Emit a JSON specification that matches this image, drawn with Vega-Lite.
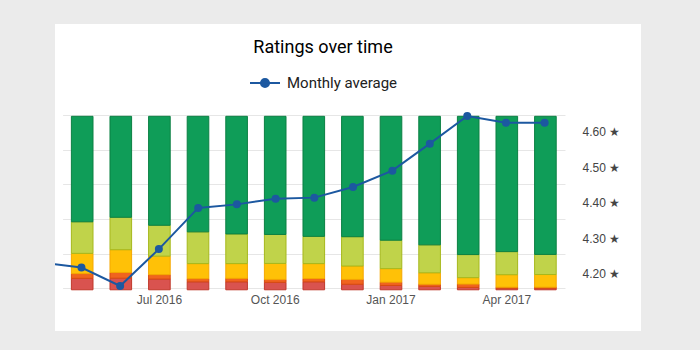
{
  "$schema": "https://vega.github.io/schema/vega-lite/v6.json",
  "width": 586,
  "height": 307,
  "autosize": {"type": "none"},
  "padding": {"left": 55, "top": 24, "right": 59, "bottom": 19},
  "background": "#ebebeb",
  "view": {"fill": "white", "stroke": null},
  "title": {
    "text": "Ratings over time",
    "font": "Roboto",
    "fontSize": 18,
    "fontWeight": "normal",
    "color": "#000000",
    "frame": "group",
    "anchor": "middle",
    "baseline": "alphabetic",
    "offset": -47,
    "dx": -25
  },
  "datasets": {
    "ratings": [
      {"month": "May 2016", "stars": 1, "share": 6.6}, {"month": "May 2016", "stars": 2, "share": 2.7}, {"month": "May 2016", "stars": 3, "share": 11.7}, {"month": "May 2016", "stars": 4, "share": 18.2}, {"month": "May 2016", "stars": 5, "share": 60.8},
      {"month": "Jun 2016", "stars": 1, "share": 6.7}, {"month": "Jun 2016", "stars": 2, "share": 3.3}, {"month": "Jun 2016", "stars": 3, "share": 13.1}, {"month": "Jun 2016", "stars": 4, "share": 18.7}, {"month": "Jun 2016", "stars": 5, "share": 58.2},
      {"month": "Jul 2016", "stars": 1, "share": 6.2}, {"month": "Jul 2016", "stars": 2, "share": 2.5}, {"month": "Jul 2016", "stars": 3, "share": 10.7}, {"month": "Jul 2016", "stars": 4, "share": 17.8}, {"month": "Jul 2016", "stars": 5, "share": 62.8},
      {"month": "Aug 2016", "stars": 1, "share": 4.6}, {"month": "Aug 2016", "stars": 2, "share": 1.8}, {"month": "Aug 2016", "stars": 3, "share": 8.7}, {"month": "Aug 2016", "stars": 4, "share": 18.3}, {"month": "Aug 2016", "stars": 5, "share": 66.6},
      {"month": "Sep 2016", "stars": 1, "share": 4.6}, {"month": "Sep 2016", "stars": 2, "share": 2.0}, {"month": "Sep 2016", "stars": 3, "share": 8.5}, {"month": "Sep 2016", "stars": 4, "share": 17.1}, {"month": "Sep 2016", "stars": 5, "share": 67.8},
      {"month": "Oct 2016", "stars": 1, "share": 4.3}, {"month": "Oct 2016", "stars": 2, "share": 1.7}, {"month": "Oct 2016", "stars": 3, "share": 9.2}, {"month": "Oct 2016", "stars": 4, "share": 16.7}, {"month": "Oct 2016", "stars": 5, "share": 68.1},
      {"month": "Nov 2016", "stars": 1, "share": 4.6}, {"month": "Nov 2016", "stars": 2, "share": 1.9}, {"month": "Nov 2016", "stars": 3, "share": 8.6}, {"month": "Nov 2016", "stars": 4, "share": 15.7}, {"month": "Nov 2016", "stars": 5, "share": 69.2},
      {"month": "Dec 2016", "stars": 1, "share": 3.2}, {"month": "Dec 2016", "stars": 2, "share": 2.8}, {"month": "Dec 2016", "stars": 3, "share": 7.7}, {"month": "Dec 2016", "stars": 4, "share": 16.9}, {"month": "Dec 2016", "stars": 5, "share": 69.4},
      {"month": "Jan 2017", "stars": 1, "share": 2.5}, {"month": "Jan 2017", "stars": 2, "share": 1.9}, {"month": "Jan 2017", "stars": 3, "share": 7.8}, {"month": "Jan 2017", "stars": 4, "share": 16.4}, {"month": "Jan 2017", "stars": 5, "share": 71.4},
      {"month": "Feb 2017", "stars": 1, "share": 2.0}, {"month": "Feb 2017", "stars": 2, "share": 1.2}, {"month": "Feb 2017", "stars": 3, "share": 6.6}, {"month": "Feb 2017", "stars": 4, "share": 16.1}, {"month": "Feb 2017", "stars": 5, "share": 74.1},
      {"month": "Mar 2017", "stars": 1, "share": 1.4}, {"month": "Mar 2017", "stars": 2, "share": 1.9}, {"month": "Mar 2017", "stars": 3, "share": 3.7}, {"month": "Mar 2017", "stars": 4, "share": 13.3}, {"month": "Mar 2017", "stars": 5, "share": 79.7},
      {"month": "Apr 2017", "stars": 1, "share": 0.9}, {"month": "Apr 2017", "stars": 2, "share": 0.6}, {"month": "Apr 2017", "stars": 3, "share": 7.2}, {"month": "Apr 2017", "stars": 4, "share": 13.3}, {"month": "Apr 2017", "stars": 5, "share": 78.0},
      {"month": "May 2017", "stars": 1, "share": 0.9}, {"month": "May 2017", "stars": 2, "share": 0.6}, {"month": "May 2017", "stars": 3, "share": 7.3}, {"month": "May 2017", "stars": 4, "share": 11.6}, {"month": "May 2017", "stars": 5, "share": 79.6}
    ],
    "avg": [
      {"date": "2016-04-16T00:00:00", "avg": 4.231},
      {"date": "2016-05-16T12:00:00", "avg": 4.217},
      {"date": "2016-06-16T00:00:00", "avg": 4.165},
      {"date": "2016-07-16T12:00:00", "avg": 4.269},
      {"date": "2016-08-16T12:00:00", "avg": 4.385},
      {"date": "2016-09-16T00:00:00", "avg": 4.395},
      {"date": "2016-10-16T12:00:00", "avg": 4.411},
      {"date": "2016-11-16T00:00:00", "avg": 4.414},
      {"date": "2016-12-16T12:00:00", "avg": 4.444},
      {"date": "2017-01-16T12:00:00", "avg": 4.490},
      {"date": "2017-02-15T00:00:00", "avg": 4.566},
      {"date": "2017-03-16T12:00:00", "avg": 4.644},
      {"date": "2017-04-16T00:00:00", "avg": 4.625},
      {"date": "2017-05-16T12:00:00", "avg": 4.625}
    ]
  },
  "layer": [
    {
      "data": {"name": "ratings"},
      "mark": {"type": "bar", "strokeWidth": 1, "yOffset": 1.3, "y2Offset": -1.3},
      "encoding": {
        "x": {
          "field": "month",
          "type": "ordinal",
          "sort": null,
          "scale": {"paddingInner": 0.44, "paddingOuter": 0.2276, "rangeMin": 7.6, "rangeMax": 510},
          "axis": {
            "title": null,
            "orient": "bottom",
            "offset": -42.5,
            "domain": false,
            "ticks": false,
            "tickSize": 0,
            "grid": false,
            "labelPadding": 6,
            "labelAngle": 0,
            "labelOverlap": false,
            "labelFont": "Liberation Sans",
            "labelFontSize": 12,
            "labelColor": "#555555",
            "labelExpr": "test(/^(Jul|Oct|Jan|Apr)/, datum.label) ? datum.label : ''"
          }
        },
        "y": {
          "field": "share",
          "type": "quantitative",
          "stack": "normalize",
          "scale": {"domain": [-0.245, 1.5245], "nice": false, "zero": false},
          "axis": {
            "title": null,
            "orient": "left",
            "values": [0, 0.2, 0.4, 0.6, 0.8, 1],
            "labels": false,
            "ticks": false,
            "domain": false,
            "grid": true,
            "gridColor": "#e6e6e6",
            "gridWidth": 1
          }
        },
        "fill": {
          "field": "stars",
          "type": "ordinal",
          "scale": {"domain": [1, 2, 3, 4, 5], "range": ["#d9534f", "#f0641e", "#ffc107", "#c0d34a", "#0f9d58"]},
          "legend": null
        },
        "stroke": {
          "field": "stars",
          "type": "ordinal",
          "scale": {"domain": [1, 2, 3, 4, 5], "range": ["#c0392b", "#d84b10", "#f5a800", "#a6b81c", "#0b8043"]},
          "legend": null
        },
        "order": {"field": "stars", "type": "quantitative", "sort": "ascending"}
      }
    },
    {
      "data": {"name": "avg"},
      "layer": [
        {
          "mark": {"type": "line", "strokeWidth": 2, "clip": true},
          "encoding": {
            "x": {
              "field": "date",
              "type": "temporal",
              "scale": {"domain": [{"year": 2016, "month": 4, "date": 25, "hours": 16}, {"year": 2017, "month": 7, "date": 31, "hours": 10}], "nice": false},
              "axis": null
            },
            "y": {
              "field": "avg",
              "type": "quantitative",
              "scale": {"domain": [4.0383, 4.9031], "nice": false, "zero": false},
              "axis": {
                "title": null,
                "orient": "right",
                "offset": -76,
                "values": [4.2, 4.3, 4.4, 4.5, 4.6],
                "labelExpr": "format(datum.value, '.2f') + ' ★'",
                "ticks": false,
                "tickSize": 0,
                "domain": false,
                "grid": false,
                "labelPadding": 17,
                "labelFont": "Liberation Sans",
                "labelFontSize": 12,
                "labelColor": "#444444"
              }
            },
            "stroke": {
              "datum": "Monthly average",
              "scale": {"range": ["#1c58a0"]},
              "legend": {
                "orient": "none",
                "legendX": 194,
                "legendY": 43,
                "title": null,
                "padding": 0,
                "symbolType": "M-1,0L1,0M0.27,0A0.27,0.27,0,1,1,-0.27,0A0.27,0.27,0,1,1,0.27,0Z",
                "symbolSize": 900,
                "symbolStrokeWidth": 2,
                "labelFont": "Roboto",
                "labelFontSize": 15,
                "labelColor": "#212121",
                "labelOffset": 6,
                "encode": {"symbols": {"update": {"fill": {"value": "#1c58a0"}, "stroke": {"value": "#1c58a0"}}}}
              }
            }
          }
        },
        {
          "mark": {"type": "circle", "size": 64, "opacity": 1, "color": "#1c58a0", "clip": true},
          "encoding": {
            "x": {"field": "date", "type": "temporal"},
            "y": {"field": "avg", "type": "quantitative"}
          }
        }
      ]
    }
  ],
  "resolve": {"scale": {"x": "independent", "y": "independent", "fill": "independent", "stroke": "independent"}}
}
